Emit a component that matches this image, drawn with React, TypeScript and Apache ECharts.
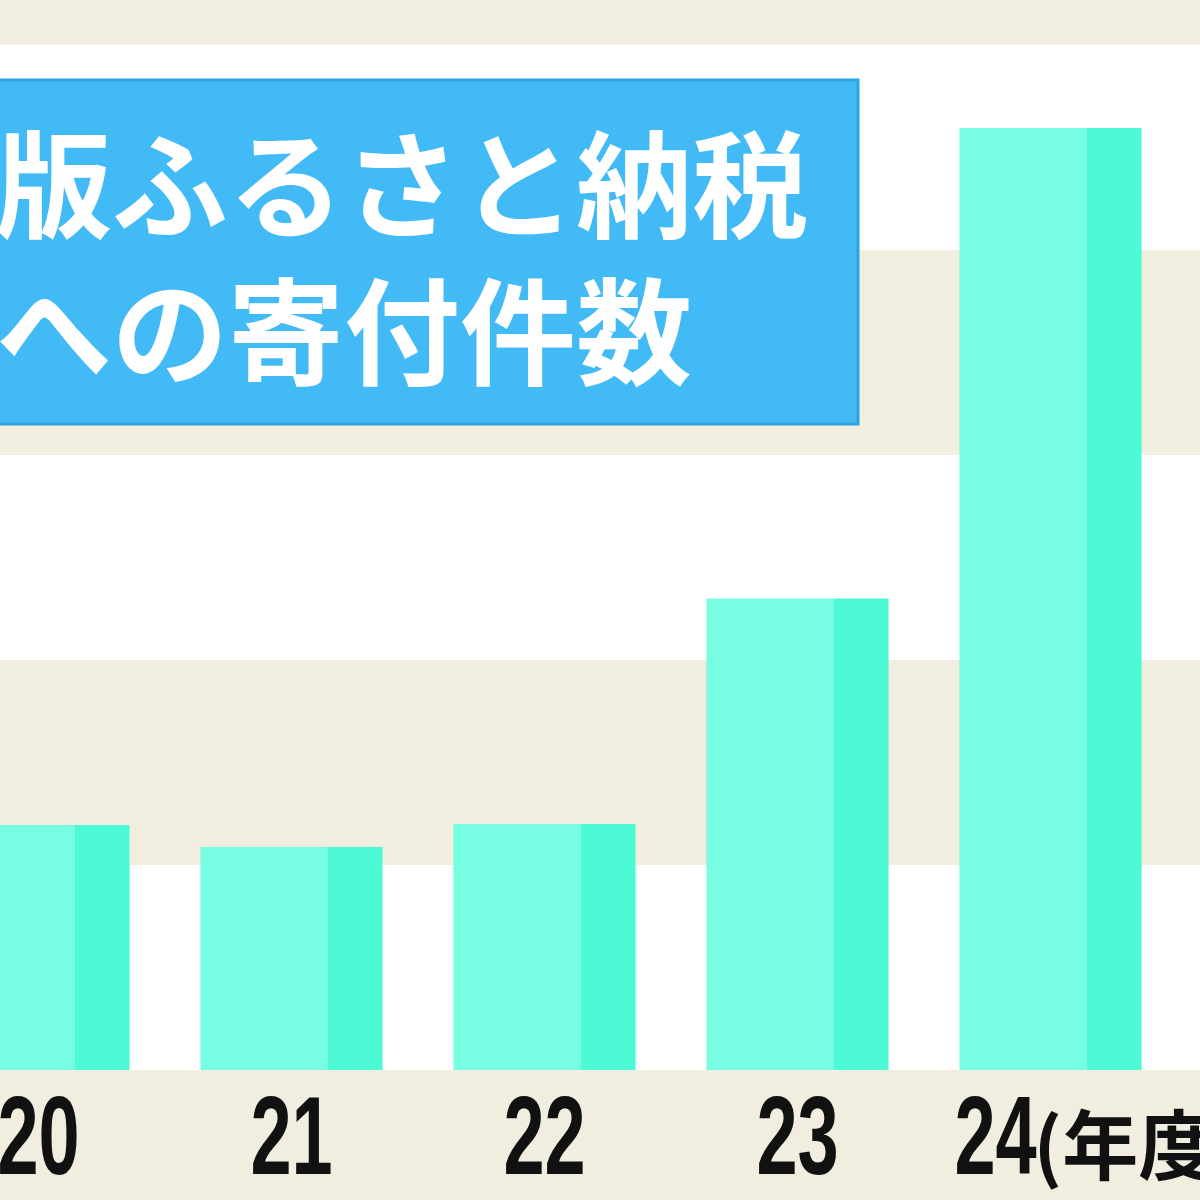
import React, { useEffect, useRef } from "react";
import * as echarts from "echarts";

// 年度 (2020–2024), values in 件
const categories = ["20", "21", "22", "23", "24"];
const donationCounts = [11950, 10880, 12000, 23000, 45950];
const titleLine1 = "版ふるさと納税";
const titleLine2 = "への寄付件数";
const unitLabel = "(年度)";

const BEIGE = "#f1eee0";
const LIGHT = "#76fde2";
const DARK = "#4cfbd6";
const BLUE = "#41baf6";

const Y_MIN = 0;
const Y_MAX = 52000;
const Y_INTERVAL = 10000;

export default function App() {
  const ref = useRef<HTMLDivElement>(null);
  useEffect(() => {
    if (!ref.current) return;
    const chart = echarts.init(ref.current, undefined, { renderer: "svg" });
    chart.setOption({
      animation: false,
      backgroundColor: BEIGE,
      grid: [
        { left: -88, width: 1265, top: 4, bottom: 130, containLabel: false, outerBoundsMode: "none" },
        { left: 0, right: 0, top: 4, bottom: 130, containLabel: false, outerBoundsMode: "none" },
      ],
      xAxis: [
        {
          type: "category",
          gridIndex: 0,
          data: categories,
          axisLine: { show: false },
          axisTick: { show: false },
          axisLabel: { show: false },
        },
        { type: "value", gridIndex: 1, min: 0, max: 1, show: false },
      ],
      yAxis: [
        {
          type: "value",
          gridIndex: 0,
          min: Y_MIN,
          max: Y_MAX,
          interval: Y_INTERVAL,
          axisLine: { show: false },
          axisTick: { show: false },
          axisLabel: { show: false },
          splitLine: { show: false },
          splitArea: { show: false },
        },
        {
          type: "value",
          gridIndex: 1,
          min: Y_MIN,
          max: Y_MAX,
          interval: Y_INTERVAL,
          z: 0,
          axisLine: { show: false },
          axisTick: { show: false },
          axisLabel: { show: false },
          splitLine: { show: false },
          splitArea: { show: true, areaStyle: { color: ["#ffffff", BEIGE] } },
        },
      ],
      series: [
        {
          type: "bar",
          xAxisIndex: 0,
          yAxisIndex: 0,
          z: 5,
          data: donationCounts,
          barWidth: "72%",
          itemStyle: {
            color: {
              type: "linear",
              x: 0,
              y: 0,
              x2: 1,
              y2: 0,
              colorStops: [
                { offset: 0, color: LIGHT },
                { offset: 0.7, color: LIGHT },
                { offset: 0.7, color: DARK },
                { offset: 1, color: DARK },
              ],
            },
          },
        },
      ],
    });

    const baseY = chart.convertToPixel({ yAxisIndex: 0 }, 0) as number;
    const labelY = baseY + 65;
    const labelEls: any[] = categories.map((c, i) => {
      const cx = chart.convertToPixel({ xAxisIndex: 0 }, c) as number;
      const isLast = i === categories.length - 1;
      return {
        type: "text",
        z: 20,
        x: isLast ? cx - 55 : cx,
        y: labelY,
        scaleX: 0.66,
        style: {
          text: c,
          fill: "#111",
          fontFamily: "'Liberation Sans', Arial, sans-serif",
          fontWeight: "bold",
          fontSize: 112,
          align: "center",
          verticalAlign: "middle",
        },
      };
    });
    const lastX = chart.convertToPixel({ xAxisIndex: 0 }, categories[categories.length - 1]) as number;
    labelEls.push({
      type: "text",
      z: 20,
      x: lastX - 17,
      y: labelY + 6,
      style: {
        text: unitLabel,
        fill: "#111",
        fontFamily: "'Noto Sans CJK JP', sans-serif",
        fontWeight: "bold",
        fontSize: 76,
        align: "left",
        verticalAlign: "middle",
      },
    });

    chart.setOption({
      graphic: [
        {
          type: "rect",
          z: 10,
          shape: { x: -10, y: 80, width: 868, height: 344 },
          style: { fill: BLUE, stroke: "#2da3df", lineWidth: 3 },
        },
        {
          type: "text",
          z: 11,
          x: -4,
          y: 178,
          style: {
            text: titleLine1,
            fill: "#ffffff",
            fontFamily: "'Noto Sans CJK JP', sans-serif",
            fontWeight: "bold",
            fontSize: 116,
            align: "left",
            verticalAlign: "middle",
          },
        },
        {
          type: "text",
          z: 11,
          x: -4,
          y: 325,
          style: {
            text: titleLine2,
            fill: "#ffffff",
            fontFamily: "'Noto Sans CJK JP', sans-serif",
            fontWeight: "bold",
            fontSize: 116,
            align: "left",
            verticalAlign: "middle",
          },
        },
        ...labelEls,
      ],
    });
    return () => chart.dispose();
  }, []);
  return (
    <div
      ref={ref}
      style={{ position: "fixed", left: 0, top: 0, width: 1200, height: 1200 }}
    />
  );
}
